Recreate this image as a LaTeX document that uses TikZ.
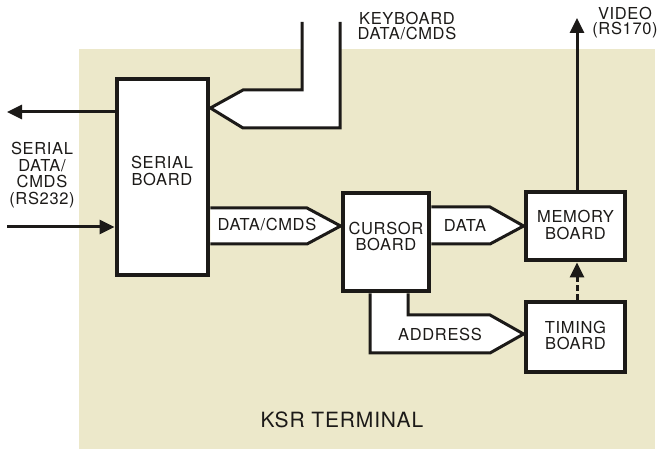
\documentclass[tikz,border=0pt]{standalone}
\usepackage{fontspec}
\setmainfont[LetterSpace=4]{TeX Gyre Heros}
\usetikzlibrary{arrows.meta}
\definecolor{paper}{RGB}{236,232,202}
\definecolor{ink}{RGB}{28,26,24}
\pgfdeclarelayer{paperlayer}
\pgfdeclarelayer{buslayer}
\pgfsetlayers{paperlayer,buslayer,main}
\begin{document}
\begin{tikzpicture}[x=1pt,y=-1pt,
  board/.style={draw=ink,line width=4.8pt,fill=white,inner sep=0pt},
  lbl/.style={text=ink,font=\fontsize{16.5}{16.5}\selectfont,align=center,inner sep=0pt},
  bus/.style={draw=ink,line width=3pt,fill=white,line join=miter},
  sig/.style={draw=ink,line width=3pt,-{Triangle[length=15pt,width=14pt]}}]
\useasboundingbox (0,0) rectangle (657,449);
\begin{pgfonlayer}{paperlayer}
\fill[paper] (79,49) rectangle (655,449);
\end{pgfonlayer}

% boxes
\node[board,minimum width=91pt,minimum height=196pt] (serial) at (162.5,177) {};
\node[board,minimum width=86pt,minimum height=98pt] (cursor) at (386,242) {};
\node[board,minimum width=99pt,minimum height=68pt] (memory) at (575.5,226) {};
\node[board,minimum width=99pt,minimum height=70pt] (timing) at (575.5,337) {};

% named coordinates
\coordinate (kb1) at (302,22);
\coordinate (kb2) at (340,22);
\coordinate (kbtip) at (0,108);
\coordinate (dc1) at (307,208);
\coordinate (dc2) at (307,244);
\coordinate (dctip) at (0,226);
\coordinate (da1) at (490,207);
\coordinate (da2) at (490,244);
\coordinate (ad1) at (408,315);
\coordinate (ad2) at (370,353);
\coordinate (adtip) at (0,334);
\coordinate (outL) at (7,112);
\coordinate (inL) at (7,227);
\coordinate (vid) at (577,18);

% buses (behind the boxes)
\begin{pgfonlayer}{buslayer}
\draw[bus] (kb1) |- (243,90) -- (serial.east |- kbtip) -- (243,128) -| (kb2);
\draw[bus] (serial.east |- dc1) -- (dc1) -- (cursor.west |- dctip) -- (dc2) -- (serial.east |- dc2);
\draw[bus] (cursor.east |- da1) -- (da1) -- (memory.west) -- (da2) -- (cursor.east |- da2);
\draw[bus] (cursor.south -| ad1) -- (ad1) -- (490,315) -- (timing.west |- adtip) -- (490,353) -- (ad2) -- (cursor.south -| ad2);
\end{pgfonlayer}

% signal arrows
\draw[sig] (serial.west |- outL) -- (outL);
\draw[sig] (inL) -- (serial.west |- inL);
\draw[sig] (memory.north -| vid) -- (vid);
\draw[sig,dash pattern=on 6pt off 3pt] (timing.north -| vid) -- (memory.south -| vid);

% labels
\node[lbl] (serialtxt) at (162,171) {SERIAL\\BOARD};
\node[lbl] (cursortxt) at (386,236.5) {CURSOR\\BOARD};
\node[lbl] (memorytxt) at (575.5,225) {MEMORY\\BOARD};
\node[lbl] (timingtxt) at (575.5,335.5) {TIMING\\BOARD};
\node[lbl] (rs232) at (42,175) {SERIAL\\DATA/\\CMDS\\(RS232)};
\node[lbl,font=\fontsize{16.5}{15}\selectfont] (kbdtxt) at (407,26) {KEYBOARD\\DATA/CMDS};
\node[lbl,font=\fontsize{16.5}{15}\selectfont] (videotxt) at (625,22.5) {VIDEO\\(RS170)};
\node[lbl] (dcmtxt) at (267,225) {DATA/CMDS};
\node[lbl] (datatxt) at (465,225) {DATA};
\node[lbl] (addrtxt) at (440,334) {ADDRESS};
\node[lbl,font=\fontsize{21}{21}\selectfont] (ksr) at (342,420) {KSR TERMINAL};
\end{tikzpicture}
\end{document}
